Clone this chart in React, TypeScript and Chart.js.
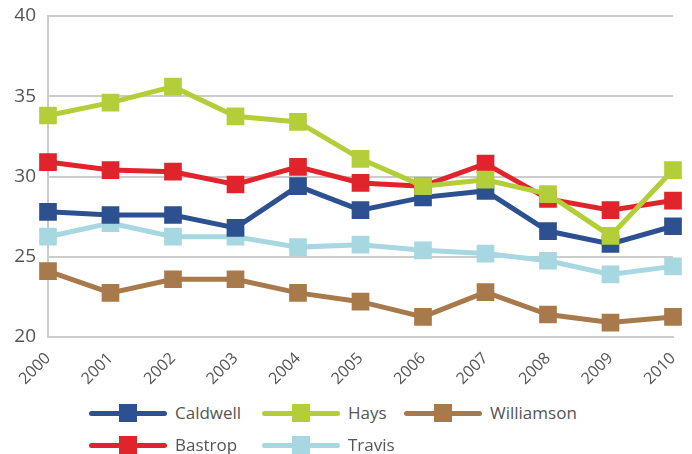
import React, { useEffect, useRef } from "react";
import { Chart, registerables } from "chart.js";

Chart.register(...registerables);

const years = ["2000", "2001", "2002", "2003", "2004", "2005", "2006", "2007", "2008", "2009", "2010"];
const caldwell = [27.8, 27.6, 27.6, 26.8, 29.4, 27.9, 28.7, 29.1, 26.6, 25.8, 26.9];
const hays = [33.8, 34.6, 35.6, 33.75, 33.4, 31.1, 29.4, 29.8, 28.9, 26.3, 30.4];
const williamson = [24.1, 22.75, 23.6, 23.6, 22.75, 22.2, 21.25, 22.8, 21.4, 20.9, 21.25];
const bastrop = [30.9, 30.4, 30.3, 29.5, 30.6, 29.6, 29.4, 30.8, 28.6, 27.9, 28.5];
const travis = [26.25, 27.1, 26.25, 26.25, 25.6, 25.75, 25.4, 25.2, 24.75, 23.9, 24.4];
const yTicks = [20, 25, 30, 35, 40];

const C_CALDWELL = "#2C5090";
const C_HAYS = "#B4CE3A";
const C_WILLIAMSON = "#A8794A";
const C_BASTROP = "#E1232B";
const C_TRAVIS = "#A7D8E1";

const FONT = "'Open Sans', 'Noto Sans', sans-serif";

function ds(label: string, data: number[], color: string) {
  return {
    label,
    data,
    borderColor: color,
    backgroundColor: color,
    borderWidth: 5,
    pointStyle: "rect" as const,
    pointRadius: 12.5,
    pointHoverRadius: 12.5,
    pointBorderWidth: 0,
    pointBackgroundColor: color,
    tension: 0,
    fill: false,
  };
}

function LegendItem({ color, label, left, top }: { color: string; label: string; left: number; top: number }) {
  return (
    <div style={{ position: "absolute", left, top, height: 24, display: "flex", alignItems: "center" }}>
      <div style={{ position: "relative", width: 78, height: 24 }}>
        <div style={{ position: "absolute", left: 0, top: 10, width: 78, height: 5, background: color, borderRadius: 3 }} />
        <div style={{ position: "absolute", left: 30, top: 3, width: 18, height: 18, background: color }} />
      </div>
      <span style={{ marginLeft: 8, fontFamily: FONT, fontSize: 17, color: "#555", lineHeight: "24px", whiteSpace: "nowrap" }}>{label}</span>
    </div>
  );
}

export default function App() {
  const ref = useRef<HTMLCanvasElement>(null);
  useEffect(() => {
    const chart = new Chart(ref.current!, {
      type: "line",
      data: {
        labels: years,
        datasets: [
          ds("Hays", hays, C_HAYS),
          ds("Bastrop", bastrop, C_BASTROP),
          ds("Caldwell", caldwell, C_CALDWELL),
          ds("Travis", travis, C_TRAVIS),
          ds("Williamson", williamson, C_WILLIAMSON),
        ],
      },
      options: {
        responsive: false,
        animation: false,
        layout: { padding: { top: 16, right: 19, left: 0, bottom: 0 } },
        plugins: { legend: { display: false }, tooltip: { enabled: false } },
        scales: {
          x: {
            offset: false,
            grid: { display: false },
            border: { display: true, color: "#cccccc", width: 2 },
            ticks: {
              color: "#555",
              font: { family: FONT, size: 16 },
              minRotation: 45,
              maxRotation: 45,
              padding: 4,
            },
            afterFit: (s: any) => {
              s.height = 58;
              s.paddingLeft = 0;
              s.paddingRight = 0;
            },
          },
          y: {
            min: 20,
            max: 40,
            afterBuildTicks: (s: any) => {
              s.ticks = yTicks.map((v) => ({ value: v }));
            },
            grid: { color: "#cccccc", lineWidth: 2, drawTicks: false },
            border: { display: true, color: "#cccccc", width: 2 },
            ticks: {
              color: "#555",
              font: { family: FONT, size: 19 },
              padding: 12,
            },
            afterFit: (s: any) => {
              s.width = 48;
              s.paddingTop = 0;
              s.paddingBottom = 0;
            },
          },
        },
      },
    });
    return () => chart.destroy();
  }, []);

  return (
    <div style={{ position: "fixed", left: 0, top: 0, width: 692, height: 454, background: "#fff" }}>
      <canvas ref={ref} width={692} height={395} style={{ position: "absolute", left: 0, top: 0 }} />
      <LegendItem color={C_CALDWELL} label="Caldwell" left={89} top={401} />
      <LegendItem color={C_HAYS} label="Hays" left={262} top={401} />
      <LegendItem color={C_WILLIAMSON} label="Williamson" left={404} top={401} />
      <LegendItem color={C_BASTROP} label="Bastrop" left={89} top={433} />
      <LegendItem color={C_TRAVIS} label="Travis" left={262} top={433} />
    </div>
  );
}
